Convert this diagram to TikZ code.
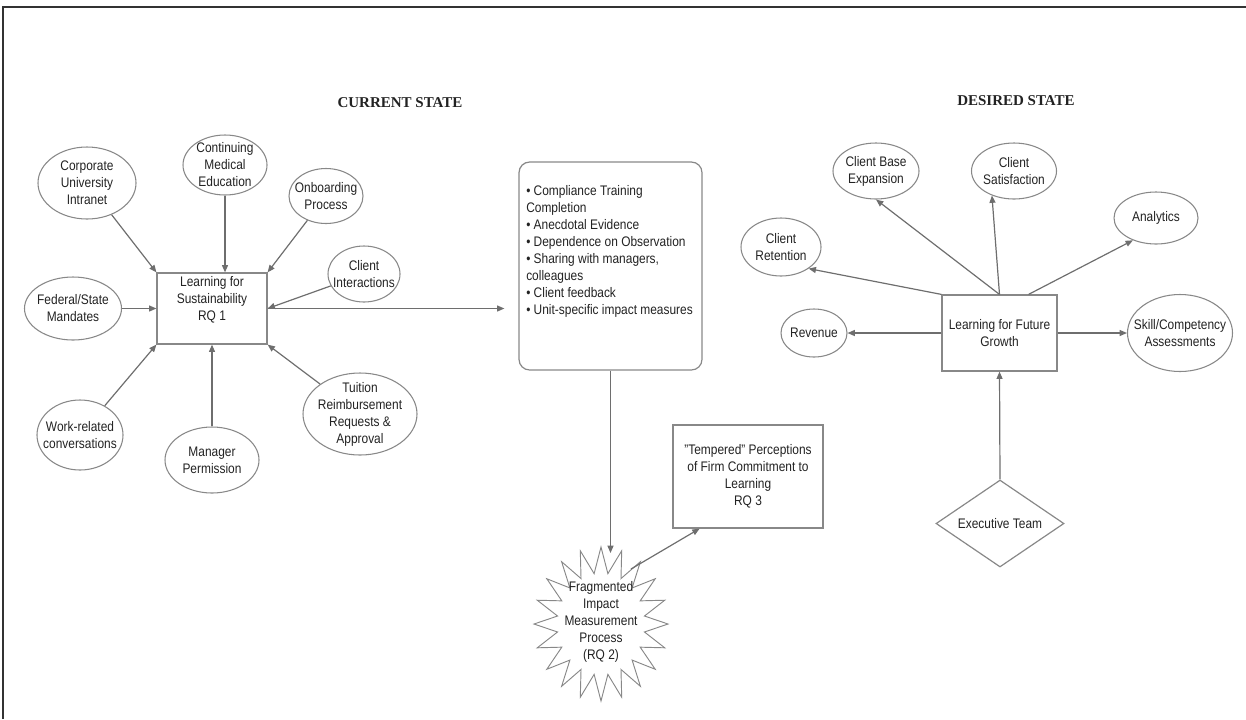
\documentclass[tikz,border=0pt]{standalone}
\usepackage{fontspec}
\setmainfont{Liberation Sans}[FakeStretch=0.86]
\newfontfamily\titlefont{Liberation Serif}
\usetikzlibrary{shapes.geometric,arrows.meta,calc}
\definecolor{ln}{HTML}{6E6E6E}
\definecolor{sh}{HTML}{888888}
\definecolor{tx}{HTML}{222222}
\definecolor{fr}{HTML}{333333}
\begin{document}
\begin{tikzpicture}[x=0.75pt,y=-0.75pt,
  txt/.style={font=\fontsize{10.4}{12.75}\selectfont, text=tx, align=center, inner sep=0pt},
  ttl/.style={font=\titlefont\bfseries\fontsize{11.25}{13}\selectfont, text=tx, inner sep=0pt},
  ov/.style 2 args={ellipse, draw=sh, line width=0.8pt, inner sep=0pt, minimum width=#1*0.75pt, minimum height=#2*0.75pt},
  bx/.style 2 args={rectangle, draw=sh, line width=0.9pt, inner sep=0pt, minimum width=#1*0.75pt, minimum height=#2*0.75pt},
  arr/.style={draw=ln, line width=0.9pt, -{Triangle[length=5.5pt,width=4.5pt]}},
  ln/.style={draw=ln, line width=0.9pt}
]
\useasboundingbox (0,0) rectangle (1246,719);
% frame
\draw[fr, line width=1.5pt] (3,719) -- (3,7) -- (1246,7);

% titles
\node[ttl] (cur) at (400,103) {CURRENT STATE};
\node[ttl] (des) at (1016,101) {DESIRED STATE};

% ---------- current state: inputs ----------
\node[bx={110}{71}] (lfs) at (212,308.5) {};
\node[txt] (lfs-t) at (212,300) {Learning for\\Sustainability\\RQ 1};

\node[ov={98}{72}] (cui) at (87,183) {};
\node[txt] (cui-t) at (cui) {Corporate\\University\\Intranet};
\node[ov={84}{60}] (cme) at (225,165) {};
\node[txt] (cme-t) at (cme) {Continuing\\Medical\\Education};
\node[ov={74}{55}] (onb) at (326,196) {};
\node[txt] (onb-t) at (onb) {Onboarding\\Process};
\node[ov={72}{56}] (cli) at (364,274) {};
\node[txt] (cli-t) at (cli) {Client\\Interactions};
\node[ov={97}{63}] (fed) at (73,308.5) {};
\node[txt] (fed-t) at (fed) {Federal/State\\Mandates};
\node[ov={86}{70}] (wrc) at (80,435) {};
\node[txt] (wrc-t) at (wrc) {Work-related\\conversations};
\node[ov={94}{66}] (mgr) at (212,460) {};
\node[txt] (mgr-t) at (mgr) {Manager\\Permission};
\node[ov={114}{82}] (tui) at (360,414) {};
\node[txt] (tui-t) at (tui) {Tuition\\Reimbursement\\Requests \&\\Approval};

\draw[arr] (cui) -- (lfs.north west);
\draw[arr] (cme.south) -- (cme.south |- lfs.north);
\draw[arr] (onb) -- (lfs.north east);
\draw[arr] (cli) -- (lfs.east);
\draw[arr] (fed) -- (lfs.west);
\draw[arr] (wrc) -- (lfs.south west);
\draw[arr] (mgr.north) -- (lfs.south);
\draw[arr] (tui) -- (lfs.south east);

% ---------- measurement box ----------
\node[rectangle, rounded corners=8pt, draw=sh, line width=0.9pt, minimum width=183*0.75pt, minimum height=208*0.75pt, inner sep=0pt] (mb) at (610.5,266) {};
\node[txt, align=left, anchor=west] (mb-t) at (526,251) {\textbullet\ Compliance Training\\Completion\\\textbullet\ Anecdotal Evidence\\\textbullet\ Dependence on Observation\\\textbullet\ Sharing with managers,\\colleagues\\\textbullet\ Client feedback\\\textbullet\ Unit-specific impact measures};

\draw[arr, shorten >=10.5pt] (lfs.east) -- (lfs.east -| mb.west);

% ---------- star ----------
\draw[draw=sh, line width=0.7pt, fill=white]
  plot[samples at={0,...,39}] ({601+ifthenelse(mod(\x,2)==0,67,44)*cos(90+\x*9)},{624-ifthenelse(mod(\x,2)==0,77,51)*sin(90+\x*9)}) -- cycle;
\node[txt] (frag) at (601,622) {Fragmented\\Impact\\Measurement\\Process\\(RQ 2)};
\coordinate (fragtop) at (610.5,553);
\coordinate (fragtr) at (631,569);

\node[bx={150}{103}] (tmp) at (748,476.5) {};
\node[txt] (tmp-t) at (tmp) {"Tempered" Perceptions\\of Firm Commitment to\\Learning\\RQ 3};

\draw[arr] (mb.south) -- (fragtop);
\draw[arr] (fragtr) -- ($(tmp.south west)!0.18!(tmp.south east)$);

% ---------- desired state ----------
\node[bx={115}{76}] (lfg) at (999.5,333) {};
\node[txt] (lfg-t) at (lfg) {Learning for Future\\Growth};

\node[ov={86}{56}] (cbe) at (876,171) {};
\node[txt] (cbe-t) at (cbe) {Client Base\\Expansion};
\node[ov={85}{56}] (csat) at (1014,171) {};
\node[txt] (csat-t) at (csat) {Client\\Satisfaction};
\node[ov={84}{52}] (ana) at (1156,218) {};
\node[txt] (ana-t) at (ana) {Analytics};
\node[ov={80}{58}] (crt) at (781,247) {};
\node[txt] (crt-t) at (crt) {Client\\Retention};
\node[ov={66}{48}] (rev) at (814,333) {};
\node[txt] (rev-t) at (rev) {Revenue};
\node[ov={105}{77}] (skl) at (1180,333) {};
\node[txt] (skl-t) at (skl) {Skill/Competency\\Assessments};
\node[diamond, draw=sh, line width=0.9pt, inner sep=0pt, minimum width=128*0.75pt, minimum height=87*0.75pt] (exe) at (1000,523.5) {};
\node[txt] (exe-t) at (exe) {Executive Team};

\draw[arr] (lfg.north) -- (csat.228);
\draw[arr] (lfg.north) -- (cbe.south);
\draw[arr] (lfg.north west) -- (crt.-38);
\draw[arr] ($(lfg.north)!0.5!(lfg.north east)$) -- (ana.224);
\draw[arr] (lfg.west) -- (rev.east);
\draw[arr] (lfg.east) -- (skl.west);
\draw[arr] (exe.north) -- (lfg.south);
\end{tikzpicture}
\end{document}
